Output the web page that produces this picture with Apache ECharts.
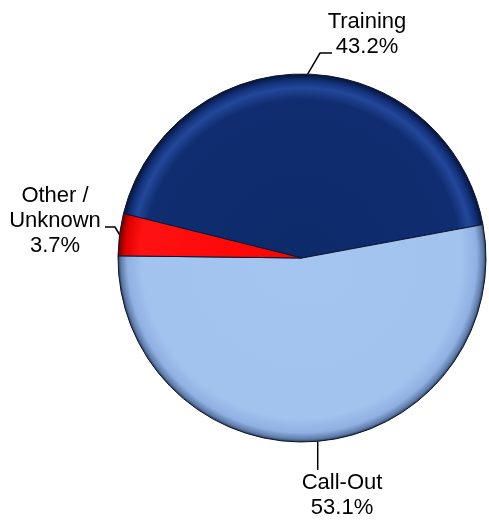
<!DOCTYPE html>
<html><head><meta charset="utf-8">
<script src="https://cdn.jsdelivr.net/npm/echarts@6/dist/echarts.min.js"></script>
<style>html,body{margin:0;padding:0;background:#fff}#c{width:489px;height:521px}</style>
</head><body><div id="c"></div>
<script>
var categories = ['Training', 'Call-Out', 'Other /\nUnknown'];
var values = [43.2, 53.1, 3.7];
var labelTexts = ['43.2%', '53.1%', '3.7%'];

var CX = 302, CY = 258, R = 184;
function grad(stops){
  return {type:'radial', x:CX, y:CY, r:R, global:true,
    colorStops: stops.map(function(s){return {offset:s[0], color:s[1]};})};
}
var fills = [
  grad([[0,'#0D2A6A'],[0.86,'#0F2D70'],[0.925,'#24479A'],[0.965,'#12317A'],[1,'#061334']]),
  grad([[0,'#A4C5F0'],[0.87,'#A2C3EE'],[0.95,'#8FB0E2'],[0.985,'#5E7BA8'],[1,'#2C3B55']]),
  grad([[0,'#FF0000'],[0.88,'#FF1212'],[0.96,'#E00000'],[1,'#700000']])
];
// label centres (layout)
var labelPos = [[367, 34], [342, 495], [55, 221]];

var chart = echarts.init(document.getElementById('c'), null, {renderer:'canvas'});
chart.setOption({
  animation:false,
  series:[{
    type:'pie',
    center:[CX, CY],
    radius:R,
    startAngle:166,
    clockwise:true,
    avoidLabelOverlap:false,
    data: categories.map(function(c,i){
      return {name:c, value:values[i], itemStyle:{color:fills[i]}};
    }),
    itemStyle:{borderColor:'#0a1530', borderWidth:1},
    label:{
      show:true, position:'outside',
      formatter:function(p){return p.name + '\n' + labelTexts[p.dataIndex];},
      fontFamily:'"Liberation Sans", Arial, sans-serif',
      fontSize:22, lineHeight:25, color:'#000', align:'center'
    },
    labelLine:{show:true, length:15, length2:10, lineStyle:{color:'#000', width:1.5}},
    emphasis:{disabled:true},
    labelLayout:function(p){
      var i = p.dataIndex, pos = labelPos[i], x = pos[0], y = pos[1];
      var e = p.labelLinePoints ? p.labelLinePoints[0] : [x, y];
      var pts;
      if (i === 0) pts = [e, [x-47, y+19], [x-35, y+19]];
      else if (i === 1) pts = [e, [e[0], y-25]];
      else pts = [e, [x+60, y+6], [x+50, y+6]];
      return {x:x, y:y, align:'center', verticalAlign:'middle', labelLinePoints:pts};
    }
  }]
});
</script></body></html>
